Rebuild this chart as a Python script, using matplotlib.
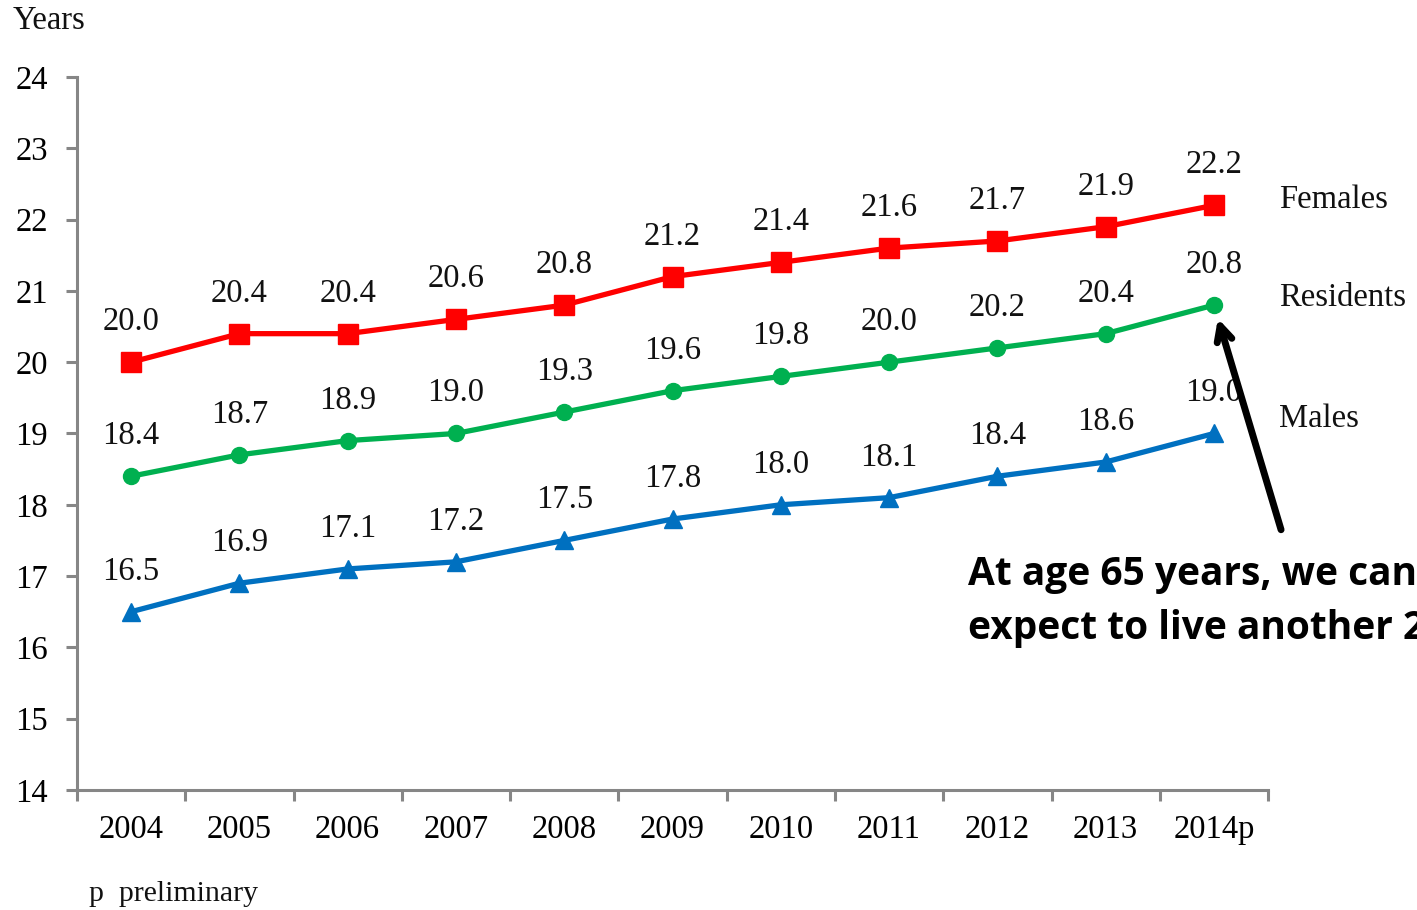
import matplotlib
matplotlib.use('Agg')
import matplotlib.pyplot as plt
from matplotlib.ticker import FixedLocator

# life expectancy at age 65, years
years = ['2004', '2005', '2006', '2007', '2008', '2009', '2010', '2011', '2012', '2013', '2014p']
females = [20.0, 20.4, 20.4, 20.6, 20.8, 21.2, 21.4, 21.6, 21.7, 21.9, 22.2]
residents = [18.4, 18.7, 18.9, 19.0, 19.3, 19.6, 19.8, 20.0, 20.2, 20.4, 20.8]
males = [16.5, 16.9, 17.1, 17.2, 17.5, 17.8, 18.0, 18.1, 18.4, 18.6, 19.0]
series_names = ['Females', 'Residents', 'Males']

plt.rcParams['font.family'] = ['Liberation Serif', 'DejaVu Serif']

fig = plt.figure(figsize=(14.17, 9.10), dpi=100)
ax = fig.add_axes([0.0543, 0.1319, 0.8406, 0.7835])

x = list(range(len(years)))
styles = [
  (females, '#FF0000', 's', 14),
  (residents, '#00B050', 'o', 11.5),
  (males, '#0070C0', '^', 12.5),
]

for vals, color, marker, ms in styles:
  ax.plot(x, vals, color=color, lw=3.8, marker=marker, ms=ms, zorder=3)
  for xi, v in zip(x, vals):
    ax.annotate('{:.1f}'.format(v), (xi, v), xytext=(0, 29), textcoords='offset points',
                ha='center', va='center', fontsize=23.5, color='#111111')

# series names at the right end
label_y = [females[-1] + 0.08, residents[-1] + 0.1, males[-1] + 0.2]
for name, ly in zip(series_names, label_y):
  ax.text(10.6, ly, name, ha='left', va='center', fontsize=23.5, color='#111111',
          clip_on=False)

ax.set_xlim(-0.5, 10.5)
ax.set_ylim(14, 24)
ax.set_yticks(range(14, 25))
ax.set_xticks(x)
ax.set_xticklabels(years)
ax.xaxis.set_minor_locator(FixedLocator([i - 0.5 for i in range(len(years) + 1)]))

for side in ['top', 'right']:
  ax.spines[side].set_visible(False)
for side in ['left', 'bottom']:
  ax.spines[side].set_color('#868686')
  ax.spines[side].set_linewidth(2.2)

ax.tick_params(axis='y', which='major', direction='out', length=8, width=2.2,
               color='#868686', pad=13, labelsize=23.5)
ax.tick_params(axis='x', which='major', length=0, pad=18, labelsize=23.5)
ax.tick_params(axis='x', which='minor', direction='out', length=8, width=2.2,
               color='#868686')

fig.text(0.009, 0.977, 'Years', ha='left', va='center', fontsize=23.5, color='#111111')
fig.text(0.063, 0.018, 'p  preliminary', ha='left', va='center', fontsize=21.5, color='#111111')

# callout pointing at the residents' latest value
ax.annotate('', xy=(10, residents[-1]), xytext=(10.62, 17.65),
            arrowprops=dict(arrowstyle='->,head_length=1.1,head_width=0.55', lw=5,
                            color='black', shrinkA=0, shrinkB=10),
            annotation_clip=False)
fig.text(0.683, 0.390, 'At age 65 years, we can\nexpect to live another 20.8 years',
         ha='left', va='top', fontsize=28, fontweight='bold', family='Open Sans',
         linespacing=1.5, color='black')

fig.savefig('out.png', dpi=100)
